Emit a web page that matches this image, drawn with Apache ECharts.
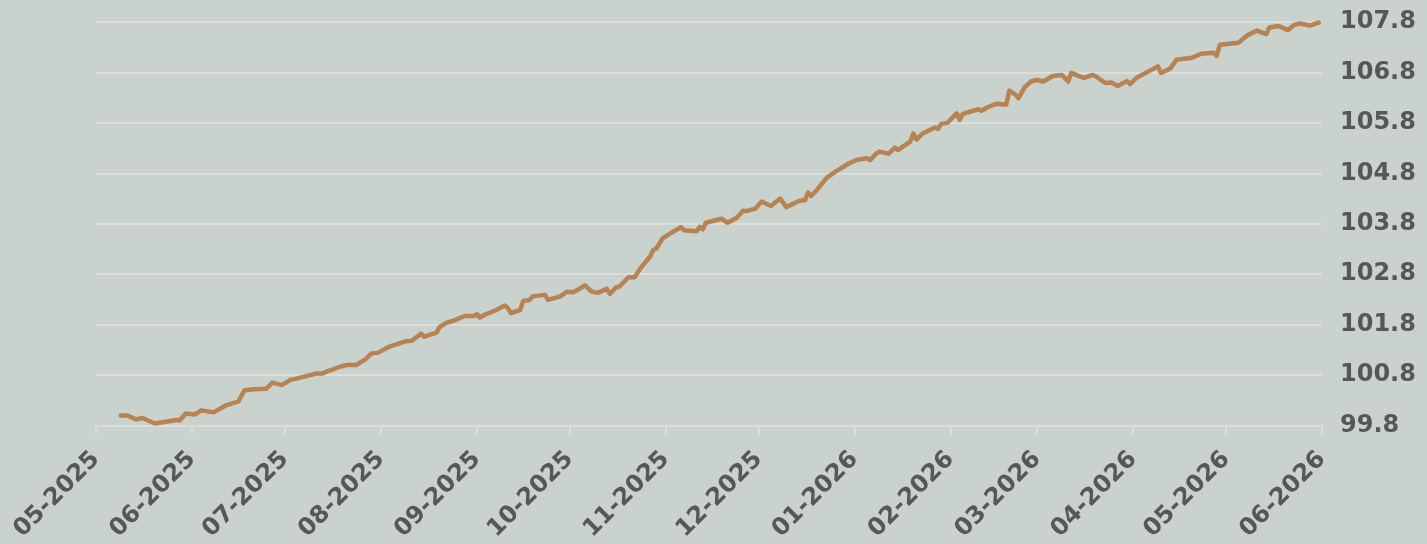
<!DOCTYPE html>
<html>
<head>
<meta charset="utf-8">
<script src="https://cdn.jsdelivr.net/npm/echarts@6/dist/echarts.min.js"></script>
<style>
  html, body { margin: 0; padding: 0; background: #c9d2cd; }
  #chart { width: 1427px; height: 544px; }
</style>
</head>
<body>
<div id="chart"></div>
<script>
// index level
const dates = [
  '2025-05-09','2025-05-11','2025-05-14','2025-05-16','2025-05-20','2025-05-23','2025-05-27','2025-05-28','2025-05-30',
  '2025-06-02','2025-06-04','2025-06-08','2025-06-12','2025-06-16','2025-06-18','2025-06-21','2025-06-25','2025-06-27','2025-06-30',
  '2025-07-03','2025-07-04','2025-07-08','2025-07-11','2025-07-13','2025-07-15','2025-07-19','2025-07-21','2025-07-24','2025-07-27','2025-07-29','2025-07-31',
  '2025-08-04','2025-08-07','2025-08-09','2025-08-11','2025-08-14','2025-08-15','2025-08-19','2025-08-20','2025-08-22','2025-08-25','2025-08-28','2025-08-31',
  '2025-09-01','2025-09-02','2025-09-04','2025-09-07','2025-09-10','2025-09-11','2025-09-12','2025-09-15','2025-09-16','2025-09-18','2025-09-19','2025-09-23','2025-09-24','2025-09-28','2025-09-30',
  '2025-10-02','2025-10-03','2025-10-06','2025-10-08','2025-10-10','2025-10-13','2025-10-14','2025-10-16','2025-10-17','2025-10-20','2025-10-22','2025-10-24','2025-10-27','2025-10-28','2025-10-29','2025-10-31',
  '2025-11-02','2025-11-04','2025-11-06','2025-11-07','2025-11-11','2025-11-12','2025-11-13','2025-11-14','2025-11-19','2025-11-21','2025-11-24','2025-11-26','2025-11-27','2025-11-30',
  '2025-12-02','2025-12-05','2025-12-08','2025-12-10','2025-12-14','2025-12-16','2025-12-17','2025-12-18','2025-12-20','2025-12-23','2025-12-26','2025-12-30','2025-12-31',
  '2026-01-02','2026-01-05','2026-01-06','2026-01-08','2026-01-09','2026-01-12','2026-01-14','2026-01-15','2026-01-19','2026-01-20','2026-01-21','2026-01-23','2026-01-27','2026-01-28','2026-01-29','2026-01-31',
  '2026-02-03','2026-02-04','2026-02-05','2026-02-10','2026-02-11','2026-02-13','2026-02-16','2026-02-19','2026-02-20','2026-02-22','2026-02-23','2026-02-25','2026-02-27',
  '2026-03-01','2026-03-03','2026-03-06','2026-03-09','2026-03-11','2026-03-12','2026-03-16','2026-03-19','2026-03-20','2026-03-23','2026-03-25','2026-03-27','2026-03-30','2026-03-31',
  '2026-04-02','2026-04-09','2026-04-10','2026-04-13','2026-04-15','2026-04-20','2026-04-23','2026-04-27','2026-04-28','2026-04-29',
  '2026-05-05','2026-05-08','2026-05-11','2026-05-14','2026-05-15','2026-05-18','2026-05-21','2026-05-23','2026-05-25','2026-05-28','2026-05-31'
];
const values = [
  100.00,100.00,99.92,99.95,99.84,99.87,99.91,99.90,100.04,
  100.02,100.10,100.06,100.20,100.28,100.50,100.52,100.53,100.65,100.60,
  100.71,100.72,100.78,100.83,100.83,100.88,100.97,101.00,101.00,101.11,101.23,101.24,
  101.37,101.43,101.47,101.48,101.62,101.56,101.64,101.75,101.83,101.89,101.97,101.97,
  102.01,101.94,102.01,102.08,102.18,102.13,102.03,102.09,102.27,102.29,102.36,102.39,102.29,102.36,102.45,
  102.44,102.47,102.58,102.46,102.43,102.51,102.41,102.54,102.55,102.74,102.74,102.93,103.15,103.28,103.31,103.51,
  103.59,103.66,103.73,103.67,103.65,103.74,103.69,103.82,103.90,103.82,103.92,104.06,104.05,104.10,
  104.24,104.15,104.30,104.13,104.25,104.27,104.42,104.35,104.48,104.71,104.84,104.99,105.02,
  105.07,105.10,105.06,105.19,105.23,105.19,105.31,105.26,105.43,105.59,105.47,105.59,105.71,105.68,105.78,105.80,
  105.99,105.86,105.98,106.07,106.04,106.11,106.18,106.16,106.44,106.36,106.29,106.51,106.62,
  106.65,106.62,106.73,106.75,106.62,106.79,106.69,106.75,106.72,106.59,106.60,106.53,106.63,106.57,
  106.69,106.92,106.79,106.88,107.05,107.09,107.17,107.19,107.13,107.35,
  107.39,107.54,107.63,107.56,107.69,107.72,107.64,107.74,107.77,107.73,107.79
];

// month ticks on the x axis
const monthTicks = [
  '2025-05-01','2025-06-01','2025-07-01','2025-08-01','2025-09-01','2025-10-01','2025-11-01',
  '2025-12-01','2026-01-01','2026-02-01','2026-03-01','2026-04-01','2026-05-01','2026-06-01'
];

const yMin = 99.8;
const yMax = 107.8;
const yStep = 1;

const LABEL_STYLE = {
  color: '#575757',
  fontWeight: 'bold',
  fontFamily: '"DejaVu Sans", sans-serif',
  fontSize: 24
};

const toTime = (d) => new Date(d + 'T00:00:00Z').getTime();
const tickTimes = monthTicks.map(toTime);
const pad = (n) => (n < 10 ? '0' + n : '' + n);

const chart = echarts.init(document.getElementById('chart'));

chart.setOption({
  backgroundColor: '#c9d2cd',
  animation: false,
  grid: { left: 96, right: 105, top: 22, bottom: 117 },
  xAxis: {
    // plain value axis over timestamps so the month ticks can be given directly
    type: 'value',
    min: tickTimes[0],
    max: tickTimes[tickTimes.length - 1],
    axisLine: { show: true, lineStyle: { color: '#dcdedc', width: 2 } },
    axisTick: { show: true, length: 9, lineStyle: { color: '#dcdedc', width: 2 }, customValues: tickTimes },
    splitLine: { show: false },
    axisLabel: {
      ...LABEL_STYLE,
      rotate: 45,
      margin: 30,
      customValues: tickTimes,
      formatter: (v) => {
        const d = new Date(v);
        return pad(d.getUTCMonth() + 1) + '-' + d.getUTCFullYear();
      }
    }
  },
  yAxis: {
    type: 'value',
    position: 'right',
    min: yMin,
    max: yMax,
    interval: yStep,
    axisLine: { show: false },
    axisTick: { show: false },
    splitLine: { lineStyle: { color: '#dcdedc', width: 2 } },
    axisLabel: {
      ...LABEL_STYLE,
      margin: 18,
      formatter: (v) => v.toFixed(1)
    }
  },
  series: [
    {
      type: 'line',
      data: dates.map((d, i) => [toTime(d), values[i]]),
      showSymbol: false,
      smooth: false,
      lineStyle: { color: '#b78352', width: 4.5, cap: 'round', join: 'round' }
    }
  ]
});
</script>
</body>
</html>
